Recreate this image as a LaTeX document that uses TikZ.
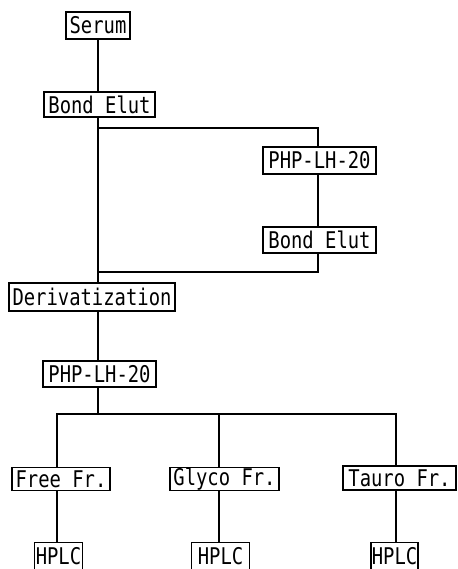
\documentclass[tikz,border=0pt]{standalone}
\usepackage{fontspec}
\newfontfamily\boxfont[FakeStretch=0.82]{DejaVu Sans Mono}
\begin{document}
\begin{tikzpicture}[x=1pt,y=-1pt,
  stepbox/.style={draw,line width=1.3pt,inner sep=0pt,anchor=center,
    font=\boxfont\fontsize{23}{26}\selectfont},
  openbox/.style={stepbox,draw=none},
  link/.style={line width=1.3pt}]
\useasboundingbox (0,0) rectangle (457,569);
\node[stepbox,minimum width=64pt,minimum height=27pt] (serum) at (98,25.5) {Serum};
\node[stepbox,minimum width=111pt,minimum height=25pt] (bond1) at (99.5,104.5) {Bond Elut};
\node[stepbox,minimum width=113pt,minimum height=27pt] (php1) at (319.5,160.5) {PHP-LH-20};
\node[stepbox,minimum width=113pt,minimum height=26pt] (bond2) at (319.5,240) {Bond Elut};
\node[stepbox,minimum width=166pt,minimum height=28pt] (deriv) at (92,297) {Derivatization};
\node[stepbox,minimum width=113pt,minimum height=26pt] (php2) at (99.5,374) {PHP-LH-20};
\node[stepbox,minimum width=98pt,minimum height=23pt] (free) at (61,479) {Free Fr.};
\node[stepbox,minimum width=109pt,minimum height=23pt] (glyco) at (224.5,479) {Glyco Fr.};
\node[stepbox,minimum width=113pt,minimum height=24pt] (tauro) at (399.5,478) {Tauro Fr.};
\node[openbox,minimum width=47pt,minimum height=26pt] (hplc1) at (58.5,556) {HPLC};
\node[openbox,minimum width=57pt,minimum height=26pt] (hplc2) at (220.5,556) {HPLC};
\node[openbox,minimum width=45pt,minimum height=26pt] (hplc3) at (394.5,556) {HPLC};
\foreach \h in {hplc1,hplc2,hplc3}
  \draw[link] (\h.south west) -- (\h.north west) -- (\h.north east) -- (\h.south east);
\coordinate (m) at (98,0);
\coordinate (r) at (318,0);
\coordinate (split) at (98,128);
\coordinate (join) at (98,272);
\coordinate (bus) at (98,414);
\draw[link] (m |- serum.south) -- (m |- bond1.north);
\draw[link] (m |- bond1.south) -- (m |- deriv.north);
\draw[link] (split) -| (r |- php1.north);
\draw[link] (r |- php1.south) -- (r |- bond2.north);
\draw[link] (r |- bond2.south) |- (join);
\draw[link] (m |- deriv.south) -- (m |- php2.north);
\draw[link] (m |- php2.south) -- (bus);
\coordinate (fx) at (57,0);
\coordinate (gx) at (219,0);
\coordinate (tx) at (396,0);
\draw[link] (fx |- free.north) |- (tx |- bus) -- (tx |- tauro.north);
\draw[link] (gx |- bus) -- (gx |- glyco.north);
\draw[link] (fx |- free.south) -- (fx |- hplc1.north);
\draw[link] (gx |- glyco.south) -- (gx |- hplc2.north);
\draw[link] (tx |- tauro.south) -- (tx |- hplc3.north);
\end{tikzpicture}
\end{document}
